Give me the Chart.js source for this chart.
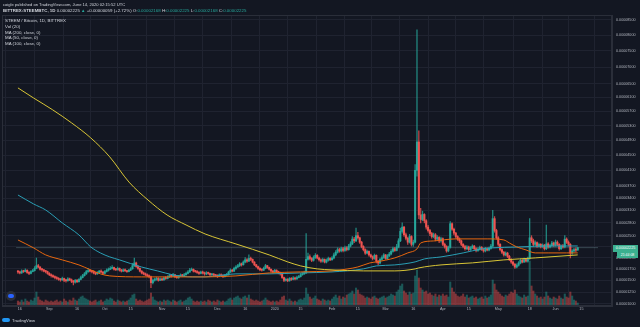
<!DOCTYPE html>
<html>
<head>
<meta charset="utf-8">
<script src="https://cdn.jsdelivr.net/npm/chart.js@4.4.1/dist/chart.umd.min.js"></script>
<style>
  html, body { margin: 0; padding: 0; background: #131722; }
  #wrap { position: relative; width: 640px; height: 327px; background: #131722; overflow: hidden;
          font-family: "Liberation Sans", Arial, sans-serif; color: #d1d4dc; }
  #c { position: absolute; left: 0; top: 0; }
  .t { position: absolute; white-space: nowrap; line-height: 1; }
  .up { color: #26a69a; }
  #frame { position: absolute; left: 2px; top: 15px; width: 610px; height: 291px;
           border: 1px solid #2a2e39; box-sizing: border-box; pointer-events: none; }
  #pricebox { position: absolute; left: 613px; top: 245px; width: 25px; height: 7px; background: #3bb08f;
              color: #fff; font-size: 3.7px; line-height: 7px; text-align: center; }
  #timebox { position: absolute; left: 617px; top: 252px; width: 21px; height: 6px; background: #3bb08f;
             color: #fff; font-size: 3.5px; line-height: 6px; text-align: center; }
  #mark { position: absolute; left: 6px; top: 291px; width: 10px; height: 10px; border-radius: 50%; background: #2a2e39; }
  #mark i { position: absolute; left: 2px; top: 3px; width: 6px; height: 4px; border-radius: 2px; background: #2962ff; }
  #logo { position: absolute; left: 2px; top: 318px; width: 8px; height: 4px; border-radius: 2px; background: #2196f3; }
</style>
</head>
<body>
<div id="wrap">
  <canvas id="c" width="640" height="327"></canvas>
  <div id="frame"></div>
  <div class="t" style="left:3px;top:2.5px;font-size:4.1px;">coigle published on TradingView.com, June 14, 2020 02:15:52 UTC</div>
  <div class="t" style="left:3px;top:8.5px;font-size:4.4px;"><b>BITTREX:STEEMBTC, 1D</b> 0.00002225 <span class="up">▲</span> +0.00000059 (+2.72%) O:<span class="up">0.00002168</span> H:<span class="up">0.00002225</span> L:<span class="up">0.00002168</span> C:<span class="up">0.00002225</span></div>
  <div class="t" style="left:5px;top:19px;font-size:4.4px;">STEEM / Bitcoin, 1D, BITTREX</div>
  <div class="t" style="left:5px;top:25px;font-size:4.4px;">Vol (20)</div>
  <div class="t" style="left:5px;top:30.5px;font-size:4.4px;">MA (200, close, 0)</div>
  <div class="t" style="left:5px;top:36.3px;font-size:4.4px;">MA (50, close, 0)</div>
  <div class="t" style="left:5px;top:42.2px;font-size:4.4px;">MA (100, close, 0)</div>
  <div id="pricebox">0.00002225</div>
  <div id="timebox">21:44:08</div>
  <div id="mark"><i></i></div>
  <div id="logo"></div>
  <div class="t" style="left:12px;top:319px;font-size:4.2px;color:#d1d4dc;">TradingView</div>
</div>
<script>
// daily candles, day 0 = 2019-08-15, prices in satoshi
const OPEN = [
  1690,1680,1660,1700,1690,1720,1670,1650,1690,1710,
  1760,1820,1790,1740,1730,1700,1690,1650,1620,1600,
  1580,1560,1540,1520,1510,1540,1500,1490,1530,1510,
  1480,1460,1500,1470,1520,1560,1600,1640,1690,1710,
  1700,1690,1660,1640,1670,1700,1680,1650,1690,1720,
  1740,1760,1780,1740,1730,1760,1720,1700,1730,1710,
  1690,1720,1750,1820,1880,1800,1760,1700,1660,1640,
  1620,1600,1580,1450,1500,1520,1540,1500,1530,1510,
  1550,1540,1570,1600,1590,1620,1580,1560,1590,1610,
  1600,1620,1650,1680,1720,1740,1700,1690,1670,1650,
  1680,1660,1640,1660,1650,1620,1630,1610,1600,1590,
  1620,1600,1580,1610,1620,1680,1720,1700,1760,1790,
  1820,1860,1840,1900,1950,1920,1980,1960,1900,1840,
  1800,1760,1730,1720,1760,1820,1780,1740,1700,1680,
  1720,1690,1660,1640,1560,1500,1520,1490,1540,1520,
  1550,1530,1560,1580,1620,1640,1660,1960,2020,1980,
  1940,2000,2050,1990,1950,1920,1960,1900,1940,1980,
  1950,1990,2060,2120,2180,2150,2200,2160,2220,2180,
  2260,2310,2420,2380,2500,2450,2350,2250,2180,2100,
  2140,2060,2020,1980,2050,1920,1880,1960,2000,2060,
  1980,2040,2080,2140,2200,2160,2240,2380,2600,2700,
  2520,2440,2350,2480,2300,2350,4100,4850,2990,2880,
  3000,2850,2700,2620,2550,2480,2520,2420,2460,2380,
  2430,2300,2250,2150,2230,2780,2650,2560,2480,2420,
  2380,2300,2250,2200,2240,2180,2220,2260,2200,2160,
  2190,2230,2180,2150,2200,2170,2210,2260,2900,2620,
  2450,2300,2180,2120,2060,2100,2030,1960,1900,1850,
  1790,1830,1880,1940,1900,1960,1920,1980,2450,2380,
  2300,2340,2260,2300,2250,2280,2200,2310,2240,2270,
  2330,2280,2350,2300,2200,2260,2240,2420,2350,2300,
  2100,2150,2180,2168
];
const HIGH = [
  1720,1700,1730,1720,1750,1730,1690,1710,1740,1800,
  1990,1850,1800,1760,1740,1720,1700,1670,1640,1620,
  1600,1580,1560,1540,1570,1550,1520,1560,1550,1530,
  1500,1520,1520,1540,1590,1630,1670,1720,1760,1740,
  1720,1710,1680,1690,1720,1730,1690,1710,1750,1770,
  1800,1820,1790,1760,1790,1770,1740,1750,1750,1720,
  1740,1780,1870,1990,1900,1820,1770,1710,1680,1660,
  1640,1620,1590,1530,1550,1570,1560,1550,1550,1570,
  1580,1600,1630,1620,1650,1630,1600,1610,1640,1630,
  1650,1680,1710,1760,1770,1750,1720,1710,1690,1700,
  1700,1680,1690,1680,1660,1650,1650,1630,1620,1640,
  1640,1620,1630,1650,1700,1750,1740,1790,1820,1850,
  1890,1880,1930,2000,1980,2060,2010,1970,1910,1850,
  1810,1780,1750,1790,1850,1830,1790,1750,1720,1740,
  1730,1700,1680,1650,1570,1550,1540,1560,1560,1580,
  1570,1590,1610,1650,1670,1700,2550,2100,2060,2000,
  2040,2090,2070,2010,1970,1990,1970,1970,2010,2000,
  2020,2100,2160,2220,2210,2240,2230,2260,2250,2300,
  2360,2480,2460,2680,2580,2470,2370,2270,2200,2170,
  2150,2080,2040,2080,2060,1940,1990,2040,2090,2070,
  2070,2120,2180,2240,2230,2300,2430,2680,2800,2720,
  2560,2470,2530,2500,2400,4250,8170,5150,3150,3080,
  3020,2880,2740,2650,2580,2560,2550,2500,2480,2470,
  2450,2330,2270,2260,2830,2800,2680,2580,2500,2450,
  2400,2320,2280,2270,2260,2250,2290,2280,2220,2220,
  2260,2250,2200,2230,2220,2240,2300,3100,2950,2650,
  2480,2320,2200,2140,2130,2120,2050,1980,1920,1870,
  1860,1910,1970,1960,1990,1980,2010,2900,2500,2420,
  2380,2360,2330,2320,2310,2300,2750,2340,2300,2370,
  2350,2400,2380,2320,2290,2300,2500,2450,2380,2320,
  2180,2210,2220,2225
];
const LOW = [
  1650,1640,1650,1670,1680,1650,1620,1640,1680,1700,
  1750,1770,1720,1700,1680,1660,1630,1600,1570,1560,
  1530,1520,1500,1480,1500,1470,1460,1480,1490,1450,
  1400,1440,1450,1460,1510,1550,1590,1630,1670,1680,
  1660,1640,1620,1630,1660,1660,1630,1640,1680,1700,
  1730,1750,1720,1710,1720,1700,1680,1690,1690,1670,
  1680,1710,1740,1800,1780,1740,1680,1640,1620,1600,
  1580,1550,1340,1420,1480,1500,1480,1490,1490,1500,
  1520,1530,1560,1570,1580,1560,1540,1540,1580,1580,
  1590,1610,1640,1670,1710,1680,1670,1650,1630,1640,
  1640,1610,1620,1630,1600,1600,1590,1580,1560,1580,
  1580,1560,1570,1600,1610,1670,1680,1690,1740,1780,
  1800,1810,1830,1880,1890,1910,1930,1880,1820,1780,
  1740,1710,1700,1710,1750,1760,1720,1680,1660,1670,
  1670,1640,1610,1540,1470,1480,1470,1480,1500,1510,
  1510,1520,1550,1570,1610,1630,1650,1940,1950,1910,
  1920,1980,1970,1920,1890,1900,1880,1880,1920,1930,
  1940,1970,2040,2100,2120,2130,2130,2140,2150,2170,
  2240,2290,2340,2360,2420,2320,2220,2150,2070,2080,
  2030,1990,1950,1960,1880,1840,1860,1940,1980,1960,
  1960,2020,2060,2120,2140,2150,2220,2360,2560,2480,
  2400,2300,2330,2260,2250,2330,3950,2900,2800,2850,
  2800,2650,2580,2500,2440,2450,2380,2390,2340,2350,
  2270,2210,2120,2130,2210,2620,2520,2440,2390,2340,
  2270,2220,2170,2180,2150,2160,2200,2180,2130,2140,
  2170,2160,2120,2130,2150,2150,2190,2240,2580,2420,
  2260,2150,2090,2030,2040,2000,1930,1870,1820,1760,
  1770,1810,1860,1880,1890,1900,1900,1960,2340,2260,
  2270,2230,2240,2220,2230,2170,2180,2210,2220,2250,
  2250,2260,2270,2170,2180,2210,2220,2320,2260,1990,
  2070,2120,2130,2168
];
const CLOSE = [
  1680,1660,1700,1690,1720,1670,1650,1690,1710,1760,
  1820,1790,1740,1730,1700,1690,1650,1620,1600,1580,
  1560,1540,1520,1510,1540,1500,1490,1530,1510,1480,
  1460,1500,1470,1520,1560,1600,1640,1690,1710,1700,
  1690,1660,1640,1670,1700,1680,1650,1690,1720,1740,
  1760,1780,1740,1730,1760,1720,1700,1730,1710,1690,
  1720,1750,1820,1880,1800,1760,1700,1660,1640,1620,
  1600,1580,1450,1500,1520,1540,1500,1530,1510,1550,
  1540,1570,1600,1590,1620,1580,1560,1590,1610,1600,
  1620,1650,1680,1720,1740,1700,1690,1670,1650,1680,
  1660,1640,1660,1650,1620,1630,1610,1600,1590,1620,
  1600,1580,1610,1620,1680,1720,1700,1760,1790,1820,
  1860,1840,1900,1950,1920,1980,1960,1900,1840,1800,
  1760,1730,1720,1760,1820,1780,1740,1700,1680,1720,
  1690,1660,1640,1560,1500,1520,1490,1540,1520,1550,
  1530,1560,1580,1620,1640,1660,1960,2020,1980,1940,
  2000,2050,1990,1950,1920,1960,1900,1940,1980,1950,
  1990,2060,2120,2180,2150,2200,2160,2220,2180,2260,
  2310,2420,2380,2500,2450,2350,2250,2180,2100,2140,
  2060,2020,1980,2050,1920,1880,1960,2000,2060,1980,
  2040,2080,2140,2200,2160,2240,2380,2600,2700,2520,
  2440,2350,2480,2300,2350,4100,4850,2990,2880,3000,
  2850,2700,2620,2550,2480,2520,2420,2460,2380,2430,
  2300,2250,2150,2230,2780,2650,2560,2480,2420,2380,
  2300,2250,2200,2240,2180,2220,2260,2200,2160,2190,
  2230,2180,2150,2200,2170,2210,2260,2900,2620,2450,
  2300,2180,2120,2060,2100,2030,1960,1900,1850,1790,
  1830,1880,1940,1900,1960,1920,1980,2450,2380,2300,
  2340,2260,2300,2250,2280,2200,2310,2240,2270,2330,
  2280,2350,2300,2200,2260,2240,2420,2350,2300,2100,
  2150,2180,2166,2225
];
const VOLUME = [
  5,4,6,4,7,5,4,6,5,8,
  14,9,6,5,4,6,5,4,5,4,
  5,6,4,5,4,7,5,4,6,5,
  8,6,5,7,9,10,8,7,6,5,
  4,5,6,4,5,6,4,5,7,6,
  8,7,5,4,6,5,4,5,4,5,
  6,8,11,12,7,5,6,5,4,5,
  6,7,13,9,6,5,4,5,4,6,
  5,6,5,4,6,5,4,5,6,4,
  5,6,8,9,7,5,4,5,4,5,
  4,5,4,6,5,4,5,4,6,5,
  4,5,4,5,7,8,6,8,9,10,
  8,7,9,10,8,11,7,6,5,6,
  5,4,5,6,8,6,5,4,5,4,
  5,4,6,9,10,6,5,7,5,4,
  5,4,6,7,6,8,18,12,9,7,
  8,10,7,6,5,7,6,5,6,5,
  7,9,11,8,10,7,9,8,11,12,
  13,15,12,18,16,12,11,10,8,9,
  8,7,9,10,8,7,8,9,10,8,
  9,10,12,11,10,14,16,20,22,15,
  13,11,14,12,13,30,36,28,18,16,
  14,15,12,13,11,10,12,9,11,10,
  12,10,11,9,24,18,14,12,10,9,
  10,12,9,11,8,9,10,8,9,7,
  8,9,7,10,8,9,11,26,22,16,
  14,12,10,9,11,10,12,14,13,16,
  12,10,9,8,11,9,10,45,20,15,
  12,10,8,9,7,9,14,10,8,7,
  9,8,7,10,8,7,12,9,8,14,
  10,6,5,3
];

// moving averages, sampled by day
const MA200_DAYS = [0, 8.5, 18.8, 29.1, 39.4, 49.7, 60.1, 70.4, 80.7, 91, 101.3, 118, 136, 146, 153, 162, 170, 187, 204, 215, 217, 229, 246, 263, 280, 303];
const MA200 = [6376, 6080, 5740, 5370, 4960, 4450, 3800, 3352, 2989, 2751, 2540, 2309, 2060, 1904, 1815, 1749, 1727, 1705, 1705, 1749, 1771, 1837, 1882, 1948, 1993, 2060];
const MA50_DAYS = [0, 8.5, 15, 24, 33, 39.4, 44.6, 49.7, 66.8, 101.3, 118, 136, 153, 170, 178.6, 184, 190.5, 194, 204, 211, 216, 218, 225, 237, 254.4, 263, 266, 270, 275, 280, 287, 297, 303];
const MA50 = [2401, 2218, 2060, 1948, 1837, 1727, 1640, 1596, 1574, 1574, 1596, 1661, 1683, 1705, 1749, 1792, 1881, 1904, 1993, 2105, 2196, 2332, 2378, 2425, 2425, 2401, 2332, 2241, 2173, 2105, 2105, 2105, 2105];
const MA100_DAYS = [0, 8.5, 15, 24, 33, 39.4, 44.6, 49.7, 55, 66.8, 75.5, 84, 94.6, 101.3, 118, 136, 153, 170, 187, 194, 204, 215, 220, 229, 241, 251, 256, 271, 288, 303];
const MA100 = [3476, 3254, 3109, 2799, 2517, 2241, 2105, 2015, 1948, 1792, 1705, 1618, 1574, 1574, 1640, 1640, 1661, 1683, 1749, 1815, 1837, 1904, 1970, 2015, 2105, 2196, 2218, 2241, 2263, 2263];

// time axis labels
const XTICK_DAYS = [1, 17, 32, 47, 61, 78, 92, 108, 123, 139, 153, 170, 184, 199, 214, 230, 244, 260, 277, 291, 305];
const XTICK_LABELS = ['16', 'Sep', '16', 'Oct', '15', 'Nov', '15', 'Dec', '16', '2020', '15', 'Feb', '15', 'Mar', '16', 'Apr', '15', 'May', '18', 'Jun', '15'];
// price axis labels (satoshi); 2250 sits under the last-price tag
const PRICE_TICKS = [8500, 8000, 7500, 7000, 6500, 6100, 5700, 5300, 4900, 4500, 4100, 3700, 3400, 3100, 2800, 2500, 2250, 2000, 1750, 1500, 1250, 1000];
const LAST_PRICE = CLOSE[CLOSE.length - 1];

const UP = '#26a69a', DOWN = '#ef5350';

// price axis that squeezes the high end a little
const SHIFT = 11800;
class ShiftedLogScale extends Chart.LinearScale {
  tf(v) { return Math.log(v + SHIFT); }
  getPixelForValue(value) {
    if (value === null || value === undefined || isNaN(value)) return NaN;
    const a = this.tf(this.min), b = this.tf(this.max);
    return this.getPixelForDecimal((this.tf(value) - a) / (b - a));
  }
  getValueForPixel(pixel) {
    const a = this.tf(this.min), b = this.tf(this.max);
    return Math.exp(a + this.getDecimalForPixel(pixel) * (b - a)) - SHIFT;
  }
}
ShiftedLogScale.id = 'shiftedLog';
ShiftedLogScale.defaults = Chart.LinearScale.defaults;
Chart.register(ShiftedLogScale);

const days = CLOSE.map((c, i) => i);
const isUp = days.map(i => CLOSE[i] >= OPEN[i]);

const maLine = (xs, ys, color) => ({
  type: 'line',
  data: xs.map((x, i) => ({ x: x, y: ys[i] })),
  borderColor: color,
  borderWidth: 1,
  pointRadius: 0,
  cubicInterpolationMode: 'monotone',
  yAxisID: 'y'
});

const ctx = document.getElementById('c').getContext('2d');
const chart = new Chart(ctx, {
  type: 'bar',
  data: {
    datasets: [
      Object.assign(maLine(MA200_DAYS, MA200, '#d8c536'), { order: 0 }),
      Object.assign(maLine(MA50_DAYS, MA50, '#e8670f'), { order: 1 }),
      Object.assign(maLine(MA100_DAYS, MA100, '#2a9fb5'), { order: 2 }),
      {
        // candle bodies
        data: days.map(i => ({ x: i, y: [OPEN[i], CLOSE[i]] })),
        backgroundColor: days.map(i => isUp[i] ? UP : DOWN),
        barThickness: 1.4,
        minBarLength: 1,
        grouped: false,
        yAxisID: 'y',
        order: 3
      },
      {
        // wicks
        data: days.map(i => ({ x: i, y: [LOW[i], HIGH[i]] })),
        backgroundColor: days.map(i => isUp[i] ? 'rgba(38,166,154,0.8)' : 'rgba(239,83,80,0.8)'),
        barThickness: 0.6,
        grouped: false,
        yAxisID: 'y',
        order: 4
      },
      {
        type: 'line',
        data: [{ x: -1, y: LAST_PRICE }, { x: 314, y: LAST_PRICE }],
        borderColor: 'rgba(120,160,165,0.45)',
        borderWidth: 0.8,
        pointRadius: 0,
        yAxisID: 'y',
        order: 5
      },
      {
        // volume
        data: days.map(i => ({ x: i, y: VOLUME[i] })),
        backgroundColor: days.map(i => isUp[i] ? 'rgba(38,166,154,0.45)' : 'rgba(239,83,80,0.45)'),
        barThickness: 1.4,
        grouped: false,
        yAxisID: 'yv',
        order: 6
      }
    ]
  },
  options: {
    responsive: false,
    animation: false,
    devicePixelRatio: 1,
    layout: { padding: { left: 2, top: 15, right: 0, bottom: 14 } },
    plugins: { legend: { display: false }, tooltip: { enabled: false } },
    scales: {
      x: {
        type: 'linear',
        min: -0.77,
        max: 313.7,
        afterBuildTicks: s => { s.ticks = XTICK_DAYS.map(v => ({ value: v })); },
        afterFit: s => { s.height = 7; },
        ticks: {
          autoSkip: false,
          maxRotation: 0,
          padding: 1,
          color: '#b2b5be',
          font: { size: 3.7, family: 'Liberation Sans' },
          callback: (v, i) => XTICK_LABELS[i]
        },
        grid: { color: '#1f2330', lineWidth: 1, drawTicks: false },
        border: { display: true, color: '#2a2e39' }
      },
      y: {
        type: 'shiftedLog',
        position: 'right',
        min: 957,
        max: 8660,
        afterBuildTicks: s => { s.ticks = PRICE_TICKS.map(v => ({ value: v })); },
        afterFit: s => { s.width = 28; },
        ticks: {
          autoSkip: false,
          padding: 4,
          color: '#b2b5be',
          font: { size: 3.7, family: 'Liberation Sans' },
          callback: v => v === 2250 ? '' : (v / 1e8).toFixed(8)
        },
        grid: { color: '#1f2330', lineWidth: 1, drawTicks: false },
        border: { display: true, color: '#2a2e39' }
      },
      yv: {
        type: 'linear',
        display: false,
        min: 0,
        max: 291
      }
    }
  }
});
</script>
</body>
</html>
